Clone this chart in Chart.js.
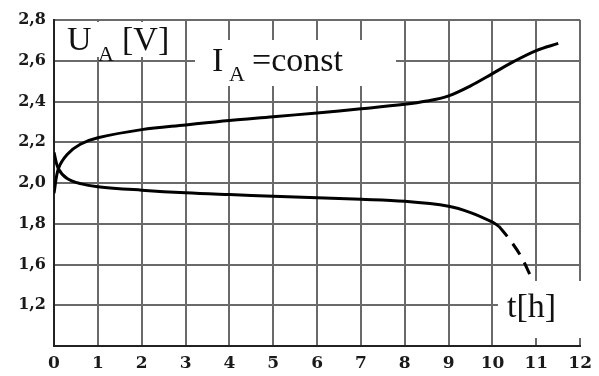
<!DOCTYPE html>
<html>
<head>
<meta charset="utf-8">
<script src="https://cdn.jsdelivr.net/npm/chart.js@4.4.1/dist/chart.umd.min.js"></script>
<style>
  body { margin: 0; background: #fff; }
  #chart { display: block; }
</style>
</head>
<body>
<canvas id="chart" width="599" height="376"></canvas>
<script>
// hours on the x axis
const hourTicks = [0, 1, 2, 3, 4, 5, 6, 7, 8, 9, 10, 11, 12];

// y tick positions and the labels printed at them (axis is broken below 1,6)
const voltTickValues = [1.4, 1.6, 1.8, 2.0, 2.2, 2.4, 2.6, 2.8];
const voltTickLabels = ['1,2', '1,6', '1,8', '2,0', '2,2', '2,4', '2,6', '2,8'];

// charging curve
const chargeT = [0, 0.1, 0.3, 0.6, 1, 2, 3, 4, 5, 6, 7, 8, 8.5, 9, 9.5, 10, 10.5, 11, 11.5];
const chargeU = [1.95, 2.07, 2.14, 2.19, 2.222, 2.262, 2.285, 2.307, 2.325, 2.344, 2.364, 2.386, 2.402, 2.428, 2.477, 2.537, 2.598, 2.65, 2.685];

// discharging curve (solid part)
const dischargeT = [0, 0.1, 0.3, 0.6, 1, 2, 3, 4, 5, 6, 7, 8, 9, 9.5, 10, 10.15];
const dischargeU = [2.15, 2.07, 2.022, 1.997, 1.982, 1.965, 1.952, 1.943, 1.935, 1.927, 1.92, 1.91, 1.886, 1.855, 1.808, 1.787];

// discharging curve (dashed end)
const endT = [10.15, 10.4, 10.65, 10.9];
const endU = [1.787, 1.72, 1.64, 1.53];

const toPoints = (xs, ys) => xs.map((x, i) => ({ x, y: ys[i] }));

// white label boxes drawn over the grid, under the curves
const labelBoxes = {
  id: 'labelBoxes',
  beforeDatasetsDraw(chart) {
    const ctx = chart.ctx;
    ctx.save();
    ctx.fillStyle = '#fff';
    ctx.fillRect(56, 22, 122, 35);
    ctx.fillRect(195, 40, 201, 46);
    ctx.fillRect(498, 281, 86, 57);

    ctx.fillStyle = '#111';
    ctx.textBaseline = 'alphabetic';
    ctx.textAlign = 'left';
    const big = '34px "Liberation Serif", serif';
    const small = '22px "Liberation Serif", serif';

    ctx.font = big;
    ctx.fillText('U', 67, 50);
    ctx.font = small;
    ctx.fillText('A', 98, 61);
    ctx.font = big;
    ctx.fillText('[V]', 122, 50);

    ctx.fillText('I', 212, 71);
    ctx.font = small;
    ctx.fillText('A', 229, 81);
    ctx.font = big;
    ctx.fillText('=const', 252, 71);

    ctx.fillText('t[h]', 507, 317);
    ctx.restore();
  }
};

document.addEventListener('DOMContentLoaded', () => {
  const canvas = document.getElementById('chart');
  const yFont = { family: '"DejaVu Serif", serif', size: 16, weight: 'bold' };
  const xFont = { family: '"DejaVu Serif", serif', size: 17, weight: 'bold' };
  const curve = { borderColor: '#000', borderWidth: 3, pointRadius: 0, tension: 0.35 };

  new Chart(canvas, {
    type: 'line',
    data: {
      datasets: [
        { ...curve, data: toPoints(chargeT, chargeU) },
        { ...curve, data: toPoints(dischargeT, dischargeU) },
        { ...curve, data: toPoints(endT, endU), borderDash: [13, 9] }
      ]
    },
    options: {
      responsive: false,
      animation: false,
      layout: { padding: { top: 20, right: 18, left: 0, bottom: 0 } },
      plugins: { legend: { display: false }, tooltip: { enabled: false } },
      scales: {
        x: {
          type: 'linear',
          min: 0,
          max: 12,
          afterBuildTicks: scale => { scale.ticks = hourTicks.map(v => ({ value: v })); },
          afterFit: scale => { scale.height = 30; },
          ticks: { color: '#1a1a1a', font: xFont, padding: 7, maxRotation: 0 },
          grid: { color: '#6a6a6a', lineWidth: 2, drawTicks: false },
          border: { color: '#222', width: 2 }
        },
        y: {
          type: 'linear',
          min: 1.2,
          max: 2.8,
          afterBuildTicks: scale => {
            scale.ticks = [{ value: 1.2 }].concat(voltTickValues.map(v => ({ value: v })));
          },
          afterFit: scale => { scale.width = 54; },
          ticks: {
            color: '#1a1a1a',
            font: yFont,
            padding: 8,
            callback: value => {
              const i = voltTickValues.findIndex(v => Math.abs(v - value) < 1e-6);
              return i >= 0 ? voltTickLabels[i] : '';
            }
          },
          grid: { color: '#6a6a6a', lineWidth: 2, drawTicks: false },
          border: { color: '#222', width: 2 }
        }
      }
    },
    plugins: [labelBoxes]
  });
});
</script>
</body>
</html>
